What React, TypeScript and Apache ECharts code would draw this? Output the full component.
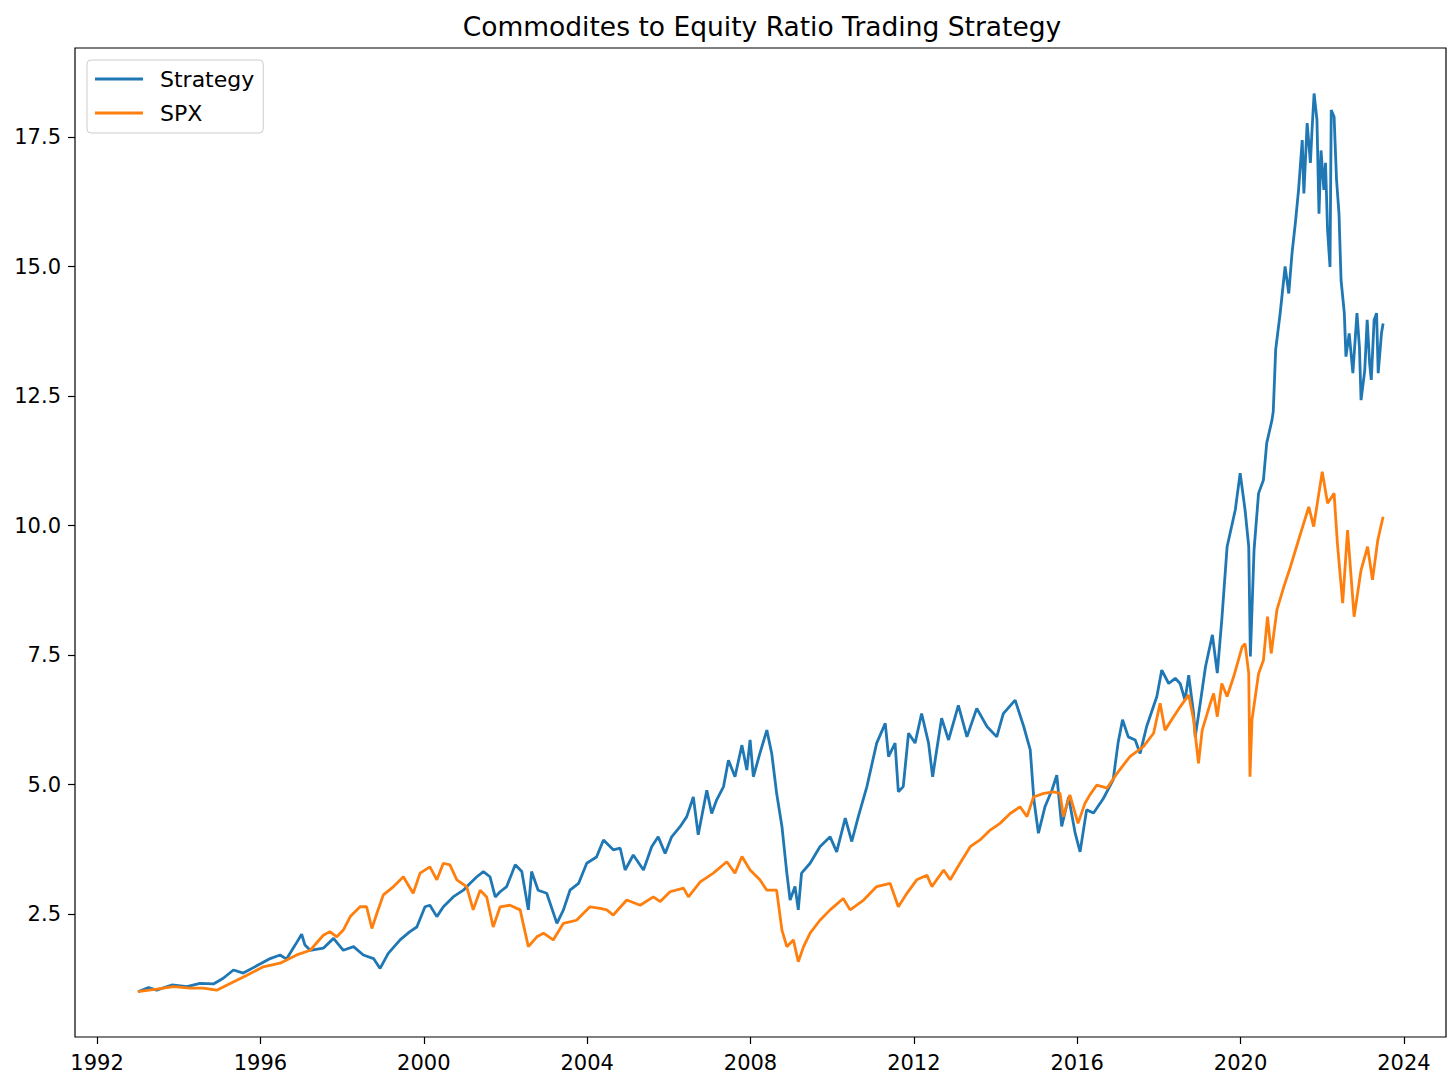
import React, { useEffect, useRef } from "react";
import * as echarts from "echarts";

const TITLE = "Commodites to Equity Ratio Trading Strategy";
const SERIES_NAMES = ["Strategy", "SPX"];
const X_TICKS = [1992, 1996, 2000, 2004, 2008, 2012, 2016, 2020, 2024];
const Y_TICKS = [2.5, 5.0, 7.5, 10.0, 12.5, 15.0, 17.5];

const strategyPoints: [number, number][] = [
  [1993.0, 1.0], [1993.26, 1.08], [1993.46, 1.03], [1993.83, 1.13], [1994.2, 1.1], [1994.52, 1.16],
  [1994.85, 1.15], [1995.09, 1.26], [1995.34, 1.42], [1995.58, 1.36], [1995.91, 1.5], [1996.24, 1.64],
  [1996.48, 1.71], [1996.64, 1.63], [1996.85, 1.9], [1997.01, 2.11], [1997.09, 1.9], [1997.22, 1.8],
  [1997.54, 1.84], [1997.79, 2.03], [1998.03, 1.8], [1998.28, 1.87], [1998.52, 1.71], [1998.77, 1.64],
  [1998.93, 1.45], [1999.13, 1.74], [1999.42, 2.0], [1999.66, 2.16], [1999.83, 2.25], [2000.03, 2.64],
  [2000.15, 2.67], [2000.32, 2.45], [2000.48, 2.64], [2000.72, 2.83], [2000.97, 2.96], [2001.13, 3.09],
  [2001.3, 3.22], [2001.46, 3.32], [2001.62, 3.22], [2001.75, 2.83], [2001.87, 2.93], [2002.03, 3.03],
  [2002.24, 3.45], [2002.4, 3.32], [2002.56, 2.58], [2002.64, 3.32], [2002.8, 2.96], [2003.01, 2.9],
  [2003.26, 2.32], [2003.42, 2.58], [2003.58, 2.96], [2003.79, 3.09], [2003.99, 3.48], [2004.23, 3.6],
  [2004.4, 3.93], [2004.64, 3.74], [2004.81, 3.77], [2004.93, 3.35], [2005.13, 3.64], [2005.38, 3.35],
  [2005.58, 3.8], [2005.74, 3.99], [2005.91, 3.67], [2006.07, 3.99], [2006.28, 4.19], [2006.44, 4.38],
  [2006.6, 4.76], [2006.72, 4.03], [2006.93, 4.89], [2007.05, 4.44], [2007.17, 4.7], [2007.34, 4.96],
  [2007.46, 5.47], [2007.62, 5.15], [2007.79, 5.76], [2007.91, 5.28], [2007.99, 5.86], [2008.07, 5.15],
  [2008.23, 5.6], [2008.4, 6.05], [2008.52, 5.6], [2008.64, 4.83], [2008.77, 4.19], [2008.89, 3.29],
  [2008.97, 2.77], [2009.09, 3.03], [2009.17, 2.58], [2009.25, 3.29], [2009.46, 3.48], [2009.7, 3.8],
  [2009.95, 3.99], [2010.11, 3.7], [2010.32, 4.35], [2010.48, 3.9], [2010.64, 4.38], [2010.85, 4.96],
  [2011.09, 5.8], [2011.3, 6.18], [2011.38, 5.54], [2011.54, 5.8], [2011.62, 4.86], [2011.74, 4.96],
  [2011.87, 5.99], [2012.03, 5.8], [2012.19, 6.37], [2012.36, 5.8], [2012.46, 5.15], [2012.56, 5.67],
  [2012.68, 6.28], [2012.85, 5.86], [2013.09, 6.53], [2013.3, 5.92], [2013.54, 6.47], [2013.79, 6.12],
  [2014.03, 5.92], [2014.19, 6.37], [2014.48, 6.63], [2014.69, 6.12], [2014.85, 5.67], [2014.94, 4.7],
  [2015.05, 4.06], [2015.21, 4.57], [2015.38, 4.89], [2015.5, 5.18], [2015.62, 4.19], [2015.79, 4.76],
  [2015.95, 4.06], [2016.07, 3.7], [2016.23, 4.51], [2016.4, 4.45], [2016.64, 4.73], [2016.88, 5.09],
  [2017.0, 5.8], [2017.11, 6.25], [2017.25, 5.92], [2017.42, 5.86], [2017.54, 5.6], [2017.7, 6.12],
  [2017.95, 6.7], [2018.07, 7.21], [2018.24, 6.95], [2018.4, 7.05], [2018.52, 6.95], [2018.64, 6.63],
  [2018.73, 7.11], [2018.85, 6.37], [2018.89, 5.92], [2019.0, 6.5], [2019.14, 7.27], [2019.31, 7.89],
  [2019.43, 7.15], [2019.54, 8.18], [2019.67, 9.59], [2019.87, 10.3], [2019.99, 11.01], [2020.11, 10.3],
  [2020.2, 9.59], [2020.24, 7.47], [2020.33, 9.53], [2020.44, 10.62], [2020.56, 10.88], [2020.64, 11.59],
  [2020.77, 12.04], [2020.8, 12.2], [2020.86, 13.4], [2020.97, 14.1], [2021.09, 15.0], [2021.18, 14.48],
  [2021.26, 15.26], [2021.34, 15.83], [2021.42, 16.48], [2021.51, 17.44], [2021.55, 16.41], [2021.63, 17.77],
  [2021.71, 17.0], [2021.75, 17.64], [2021.8, 18.34], [2021.87, 17.83], [2021.92, 16.02], [2021.97, 17.24],
  [2022.04, 16.48], [2022.08, 17.0], [2022.13, 15.7], [2022.19, 14.99], [2022.22, 18.02], [2022.29, 17.89],
  [2022.35, 16.67], [2022.41, 16.02], [2022.46, 14.74], [2022.54, 14.1], [2022.58, 13.26], [2022.66, 13.71],
  [2022.75, 12.94], [2022.85, 14.1], [2022.91, 13.45], [2022.95, 12.42], [2023.04, 12.99], [2023.1, 13.97],
  [2023.16, 13.13], [2023.2, 12.81], [2023.27, 13.97], [2023.33, 14.1], [2023.37, 12.94], [2023.45, 13.71],
  [2023.49, 13.9],
];

const spxPoints: [number, number][] = [
  [1993.0, 1.0], [1993.46, 1.05], [1993.87, 1.1], [1994.28, 1.07], [1994.6, 1.07], [1994.93, 1.03],
  [1995.26, 1.16], [1995.67, 1.32], [1996.07, 1.48], [1996.48, 1.55], [1996.89, 1.71], [1997.22, 1.8],
  [1997.54, 2.09], [1997.7, 2.16], [1997.87, 2.06], [1998.03, 2.19], [1998.2, 2.45], [1998.44, 2.64],
  [1998.6, 2.64], [1998.73, 2.22], [1998.85, 2.51], [1999.01, 2.87], [1999.26, 3.03], [1999.5, 3.22],
  [1999.74, 2.9], [1999.91, 3.29], [2000.15, 3.41], [2000.32, 3.16], [2000.48, 3.48], [2000.64, 3.45],
  [2000.81, 3.16], [2001.05, 3.03], [2001.21, 2.58], [2001.38, 2.96], [2001.54, 2.83], [2001.7, 2.25],
  [2001.87, 2.64], [2002.11, 2.67], [2002.36, 2.58], [2002.56, 1.87], [2002.77, 2.06], [2002.93, 2.13],
  [2003.17, 2.0], [2003.42, 2.32], [2003.74, 2.38], [2004.07, 2.64], [2004.32, 2.61], [2004.48, 2.58],
  [2004.64, 2.48], [2004.97, 2.77], [2005.3, 2.67], [2005.62, 2.83], [2005.79, 2.74], [2006.03, 2.93],
  [2006.36, 3.0], [2006.48, 2.83], [2006.77, 3.12], [2007.09, 3.29], [2007.42, 3.51], [2007.62, 3.29],
  [2007.79, 3.61], [2007.99, 3.35], [2008.23, 3.16], [2008.4, 2.96], [2008.64, 2.96], [2008.77, 2.19],
  [2008.89, 1.87], [2009.05, 2.0], [2009.17, 1.58], [2009.3, 1.87], [2009.46, 2.13], [2009.7, 2.38],
  [2009.95, 2.58], [2010.27, 2.8], [2010.44, 2.58], [2010.77, 2.77], [2011.09, 3.03], [2011.42, 3.09],
  [2011.62, 2.64], [2011.83, 2.9], [2012.07, 3.16], [2012.32, 3.25], [2012.44, 3.03], [2012.73, 3.35],
  [2012.89, 3.16], [2013.13, 3.48], [2013.38, 3.8], [2013.62, 3.93], [2013.87, 4.12], [2014.11, 4.25],
  [2014.36, 4.44], [2014.6, 4.57], [2014.77, 4.38], [2014.93, 4.76], [2015.18, 4.83], [2015.42, 4.86],
  [2015.58, 4.83], [2015.66, 4.38], [2015.82, 4.8], [2016.02, 4.25], [2016.19, 4.64], [2016.31, 4.8],
  [2016.48, 4.99], [2016.73, 4.93], [2016.97, 5.21], [2017.29, 5.54], [2017.62, 5.73], [2017.87, 5.99],
  [2018.03, 6.57], [2018.15, 6.05], [2018.36, 6.31], [2018.52, 6.5], [2018.73, 6.73], [2018.85, 6.25],
  [2018.97, 5.41], [2019.06, 6.05], [2019.26, 6.57], [2019.34, 6.76], [2019.43, 6.31], [2019.54, 6.95],
  [2019.67, 6.7], [2019.83, 7.08], [2020.04, 7.66], [2020.11, 7.72], [2020.2, 7.14], [2020.23, 5.15],
  [2020.28, 6.25], [2020.44, 7.14], [2020.56, 7.4], [2020.66, 8.24], [2020.75, 7.53], [2020.89, 8.37],
  [2021.06, 8.82], [2021.22, 9.2], [2021.42, 9.72], [2021.67, 10.36], [2021.79, 9.98], [2022.0, 11.04],
  [2022.13, 10.43], [2022.29, 10.62], [2022.37, 9.66], [2022.5, 8.5], [2022.62, 9.91], [2022.78, 8.24],
  [2022.95, 9.14], [2023.11, 9.59], [2023.23, 8.95], [2023.36, 9.72], [2023.49, 10.17],
];

const COLORS = ["#1f77b4", "#ff7f0e"];
const FONT = "DejaVu Sans";

export default function App() {
  const ref = useRef<HTMLDivElement>(null);
  useEffect(() => {
    if (!ref.current) return;
    const chart = echarts.init(ref.current, null, { renderer: "svg" });
    chart.setOption({
      animation: false,
      backgroundColor: "#ffffff",
      title: {
        text: TITLE,
        left: 757,
        textAlign: "center",
        top: 8,
        textStyle: { fontFamily: FONT, fontSize: 26.5, fontWeight: "normal", color: "#000" },
      },
      legend: {
        data: SERIES_NAMES,
        orient: "vertical",
        left: 87,
        top: 60,
        itemWidth: 48,
        itemHeight: 3,
        itemGap: 10,
        icon: "rect",
        padding: [7, 9, 8, 8],
        borderColor: "#cccccc",
        borderWidth: 1,
        borderRadius: 4,
        backgroundColor: "#ffffff",
        textStyle: { fontFamily: FONT, fontSize: 22, color: "#000", lineHeight: 24, padding: [0, 0, 0, 12] },
      },
      grid: {
        left: 75,
        right: 10,
        top: 48,
        bottom: 53,
        show: true,
        borderColor: "#000",
        borderWidth: 1.2,
        backgroundColor: "transparent",
      },
      xAxis: {
        type: "value",
        min: 1991.46,
        max: 2025.03,
        splitLine: { show: false },
        axisLine: { show: false },
        axisTick: { show: true, customValues: X_TICKS, length: 7, lineStyle: { color: "#000", width: 1.2 } },
        axisLabel: {
          customValues: X_TICKS,
          fontFamily: FONT,
          fontSize: 21,
          color: "#000",
          margin: 15,
          formatter: (v: number) => String(Math.round(v)),
        },
      },
      yAxis: {
        type: "value",
        min: 0.126,
        max: 19.218,
        splitLine: { show: false },
        axisLine: { show: false },
        axisTick: { show: true, customValues: Y_TICKS, length: 7, lineStyle: { color: "#000", width: 1.2 } },
        axisLabel: {
          customValues: Y_TICKS,
          fontFamily: FONT,
          fontSize: 21,
          color: "#000",
          margin: 14,
          formatter: (v: number) => v.toFixed(1),
        },
      },
      series: [
        {
          name: SERIES_NAMES[0],
          type: "line",
          data: strategyPoints,
          symbol: "none",
          lineStyle: { color: COLORS[0], width: 2.8 },
          itemStyle: { color: COLORS[0] },
          z: 2,
        },
        {
          name: SERIES_NAMES[1],
          type: "line",
          data: spxPoints,
          symbol: "none",
          lineStyle: { color: COLORS[1], width: 2.8 },
          itemStyle: { color: COLORS[1] },
          z: 3,
        },
      ],
    });
    return () => chart.dispose();
  }, []);
  return (
    <div
      ref={ref}
      style={{ position: "fixed", left: 0, top: 0, width: 1456, height: 1090, background: "#fff" }}
    />
  );
}
